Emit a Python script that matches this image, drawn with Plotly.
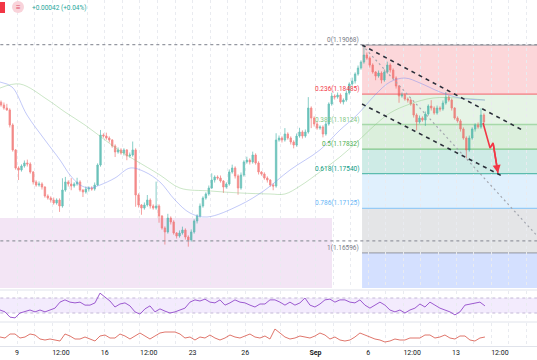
import plotly.graph_objects as go
import numpy as np

# ---------------- data ----------------
# 4-hour candles, x in trading days counted from Aug 9 00:00
bar_start = -0.911
bar_step = 1 / 6
first_open = 1.18390
closes = [
    1.18356, 1.18320, 1.18297, 1.18118, 1.17821, 1.17606, 1.17583, 1.17630, 1.17666, 1.17654,
    1.17559, 1.17440, 1.17404, 1.17416, 1.17380, 1.17273, 1.17249, 1.17225, 1.17190, 1.17225,
    1.17154, 1.17344, 1.17440, 1.17416, 1.17392, 1.17416, 1.17440, 1.17344, 1.17321, 1.17356,
    1.17368, 1.17356, 1.17404, 1.17642, 1.17999, 1.17987, 1.17963, 1.17940, 1.17868, 1.17797,
    1.17821, 1.17785, 1.17821, 1.17749, 1.17761, 1.17821, 1.17285, 1.17166, 1.17130, 1.17166,
    1.17225, 1.17154, 1.17130, 1.17154, 1.17035, 1.16892, 1.16845, 1.17011, 1.16964, 1.16833,
    1.16797, 1.16833, 1.16868, 1.16785, 1.16750, 1.16845, 1.16976, 1.17035, 1.17154, 1.17249,
    1.17297, 1.17368, 1.17463, 1.17499, 1.17487, 1.17452, 1.17380, 1.17416, 1.17559, 1.17606,
    1.17511, 1.17368, 1.17523, 1.17678, 1.17701, 1.17678, 1.17761, 1.17666, 1.17559, 1.17535,
    1.17487, 1.17463, 1.17404, 1.17392, 1.17940, 1.17963, 1.17940, 1.18011, 1.17963, 1.17916,
    1.17880, 1.17987, 1.18035, 1.17987, 1.18035, 1.18320, 1.18201, 1.18130, 1.18082, 1.18094,
    1.18011, 1.18130, 1.18368, 1.18463, 1.18451, 1.18475, 1.18392, 1.18415, 1.18499, 1.18606,
    1.18642, 1.18725, 1.18796, 1.18868, 1.18951, 1.18915, 1.18832, 1.18749, 1.18701, 1.18737,
    1.18653, 1.18749, 1.18832, 1.18772, 1.18677, 1.18582, 1.18463, 1.18475, 1.18427, 1.18415,
    1.18368, 1.18237, 1.18154, 1.18201, 1.18177, 1.18249, 1.18344, 1.18320, 1.18261, 1.18320,
    1.18308, 1.18380, 1.18451, 1.18415, 1.18320, 1.18201, 1.18166, 1.18070, 1.17963, 1.17821,
    1.17963, 1.18070, 1.18118, 1.18094, 1.18237, 1.18154,
]
wick_up_pips = [
    2, 3, 5, 2, 2, 1, 2, 2, 3, 4,
    2, 1, 2, 3, 2, 1, 2, 2, 3, 2,
    2, 14, 6, 2, 7, 2, 5, 2, 1, 3,
    2, 2, 3, 2, 6, 2, 4, 2, 1, 2,
    3, 2, 2, 1, 3, 10, 2, 2, 1, 3,
    6, 2, 2, 29, 2, 1, 2, 5, 2, 2,
    1, 3, 4, 2, 2, 3, 2, 2, 3, 2,
    2, 3, 8, 2, 2, 3, 1, 2, 3, 4,
    2, 2, 3, 2, 4, 2, 4, 2, 2, 1,
    2, 2, 1, 2, 8, 3, 2, 7, 2, 2,
    2, 3, 5, 2, 3, 13, 2, 2, 3, 2,
    2, 3, 2, 4, 2, 3, 2, 2, 3, 2,
    4, 2, 3, 2, 12, 3, 2, 2, 1, 3,
    2, 3, 4, 2, 2, 2, 1, 3, 2, 2,
    2, 1, 2, 3, 2, 3, 2, 7, 2, 3,
    2, 3, 6, 2, 2, 1, 2, 2, 2, 2,
    3, 2, 2, 3, 8, 2,
]
wick_dn_pips = [
    2, 2, 1, 3, 2, 2, 12, 2, 2, 3,
    2, 3, 2, 2, 3, 2, 2, 3, 2, 2,
    7, 2, 2, 3, 5, 2, 2, 2, 6, 2,
    3, 2, 2, 1, 2, 2, 2, 3, 2, 6,
    2, 2, 3, 5, 2, 2, 14, 3, 8, 2,
    2, 3, 2, 2, 8, 2, 15, 2, 3, 2,
    3, 2, 2, 3, 8, 2, 2, 3, 2, 2,
    2, 2, 1, 3, 2, 2, 7, 2, 2, 2,
    3, 8, 2, 2, 2, 3, 2, 2, 3, 2,
    2, 3, 2, 5, 2, 2, 3, 2, 2, 3,
    4, 2, 2, 3, 2, 2, 12, 3, 2, 2,
    4, 2, 2, 2, 3, 2, 2, 3, 2, 2,
    2, 3, 2, 2, 2, 2, 3, 2, 5, 2,
    4, 2, 2, 3, 2, 3, 8, 2, 2, 3,
    2, 3, 10, 2, 2, 7, 2, 3, 2, 2,
    3, 2, 2, 2, 3, 2, 2, 3, 2, 10,
    2, 2, 3, 2, 2, 3,
]

# moving averages (read at sample points)
ma_blue_day = [-0.97, -0.28, 0.57, 1.59, 2.45, 3.02, 3.59, 4.16, 4.73, 5.58, 6.44, 7.29, 8.14,
               9.0, 9.85, 10.82, 12.7, 14.12, 15.55, 17.25, 18.39, 19.36, 20.39, 21.24, 22.1,
               22.95, 24.09, 25.23, 26.65]
ma_blue = [1.18630, 1.18570, 1.18237, 1.17940, 1.17701, 1.17523, 1.17404, 1.17368, 1.17404,
           1.17487, 1.17606, 1.17559, 1.17440, 1.17225, 1.17071, 1.17023, 1.17166, 1.17344,
           1.17583, 1.17821, 1.18058, 1.18237, 1.18475, 1.18630, 1.18677, 1.18618, 1.18511,
           1.18439, 1.18415]
ma_green_day = [-0.97, 0.17, 1.77, 2.73, 3.87, 5.01, 5.87, 6.72, 8.14, 9.28, 10.99, 12.7, 14.41,
                15.26, 16.12, 17.25, 18.39, 19.36, 20.39, 21.24, 22.38, 23.69, 25.23, 26.65]
ma_green = [1.18558, 1.18606, 1.18415, 1.18273, 1.18118, 1.17940, 1.17809, 1.17701, 1.17523,
            1.17368, 1.17333, 1.17309, 1.17297, 1.17297, 1.17392, 1.17559, 1.17737, 1.17916,
            1.18118, 1.18261, 1.18368, 1.18439, 1.18439, 1.18415]

# oscillators, sampled on a regular grid
osc_start = -0.968
osc_step = 0.2847
rsi = [38, 33, 19, 17, 30, 33, 38, 33, 38, 33,
       38, 43, 59, 65, 59, 57, 59, 51, 51, 57,
       83, 72, 62, 46, 54, 57, 49, 33, 27, 41,
       49, 33, 41, 35, 30, 33, 38, 43, 59, 65,
       62, 67, 59, 57, 65, 51, 57, 65, 59, 57,
       51, 46, 54, 54, 65, 65, 59, 51, 59, 51,
       57, 70, 51, 46, 54, 65, 67, 59, 65, 65,
       59, 57, 65, 51, 43, 51, 59, 51, 38, 33,
       38, 30, 38, 43, 54, 46, 59, 51, 43, 38,
       33, 25, 33, 51, 54, 57, 59, 49]
osc2 = [13, 12, 16, 16, 12, 13, 16, 15, 11, 10,
        11, 10, 9, 16, 14, 11, 11, 13, 11, 9,
        14, 15, 12, 12, 16, 14, 11, 14, 17, 14,
        11, 14, 17, 18, 18, 18, 16, 12, 13, 10,
        13, 12, 15, 12, 10, 12, 15, 13, 12, 14,
        16, 13, 12, 14, 11, 21, 17, 13, 11, 12,
        14, 13, 12, 14, 17, 15, 11, 13, 10, 9,
        10, 13, 17, 15, 13, 11, 10, 8, 9, 11,
        10, 10, 12, 12, 12, 15, 15, 12, 13, 15,
        12, 11, 14, 14, 10, 9, 12, 13]

# Fibonacci retracement
fib_anchor_day = 19.65
fib_ratio = [0, 0.236, 0.382, 0.5, 0.618, 0.786, 1]
fib_price = [1.19068, 1.18485, 1.18124, 1.17832, 1.17540, 1.17125, 1.16596]
fib_color = ['#787b86', '#f23645', '#81c784', '#4caf50', '#089981', '#64b5f6', '#787b86']
fib_ext_color = '#2962ff'

# user drawings
hline_top = 1.19075
hline_low = 1.16738
zone_top = 1.17011
zone_end_day = 17.94
chan_up_day = [19.65, 28.76]
chan_up = [1.19070, 1.18060]
chan_lo_day = [19.65, 27.73]
chan_lo = [1.18368, 1.17499]
diag_day = [19.65, 30.1]
diag = [1.19070, 1.16690]
proj_day = [26.54, 26.94, 27.11, 27.39]
proj = [1.18142, 1.17844, 1.17904, 1.17547]

tick_days = [0, 2.5, 5, 7.5, 10, 13, 17, 20, 22.5, 25, 27.5]
tick_text = ['9', '12:00', '16', '12:00', '23', '26', '<b>Sep</b>', '6', '12:00', '13', '12:00']

# ---------------- figure ----------------
W, H = 537, 360
MB = 14
PH = H - MB
def py(px):  # pixel row -> paper fraction
    return (PH - px) / PH

x_rng = [-0.968, 29.613]

c = np.array(closes)
o = np.concatenate([[first_open], c[:-1]])
hi = np.maximum(o, c) + np.array(wick_up_pips) * 1e-4
lo = np.minimum(o, c) - np.array(wick_dn_pips) * 1e-4
bx = bar_start + np.arange(len(c)) * bar_step

osc_x = osc_start + np.arange(len(rsi)) * osc_step

fig = go.Figure()

fig.add_trace(go.Scatter(x=ma_green_day, y=ma_green, mode='lines', line=dict(color='rgba(140,200,130,0.45)', width=1, shape='spline'), hoverinfo='skip'))
fig.add_trace(go.Scatter(x=ma_blue_day, y=ma_blue, mode='lines', line=dict(color='rgba(120,135,240,0.45)', width=1, shape='spline'), hoverinfo='skip'))

fig.add_trace(go.Candlestick(
    x=bx, open=o, high=hi, low=lo, close=c,
    increasing=dict(line=dict(color='#26a69a', width=0.8), fillcolor='#26a69a'),
    decreasing=dict(line=dict(color='#ef5350', width=0.8), fillcolor='#ef5350'),
    whiskerwidth=0, opacity=0.68, hoverinfo='skip'))

# channel + diagonal
fig.add_trace(go.Scatter(x=diag_day, y=diag, mode='lines', line=dict(color='#a3a6af', width=1.2, dash='2px,3px'), hoverinfo='skip'))
fig.add_trace(go.Scatter(x=chan_up_day, y=chan_up, mode='lines', line=dict(color='#2a2e39', width=1.6, dash='4px,4px'), hoverinfo='skip'))
fig.add_trace(go.Scatter(x=chan_lo_day, y=chan_lo, mode='lines', line=dict(color='#2a2e39', width=1.6, dash='4px,4px'), hoverinfo='skip'))
fig.add_trace(go.Scatter(x=proj_day, y=proj, mode='lines', line=dict(color='#f23645', width=1.6), hoverinfo='skip'))

# oscillators
fig.add_trace(go.Scatter(x=osc_x, y=rsi, yaxis='y2', mode='lines', line=dict(color='#9c5ad0', width=1), hoverinfo='skip'))
fig.add_trace(go.Scatter(x=osc_x, y=osc2, yaxis='y3', mode='lines', line=dict(color='#e0766c', width=1), hoverinfo='skip'))

shapes = []
# purple demand zone
shapes.append(dict(type='rect', xref='x', yref='y', x0=-3, x1=zone_end_day, y0=1.15, y1=zone_top,
                   fillcolor='rgba(156,39,176,0.12)', line=dict(width=0), layer='below'))
# fib bands
def rgba(hx, a):
    hx = hx.lstrip('#')
    return 'rgba(%d,%d,%d,%.2f)' % (int(hx[0:2], 16), int(hx[2:4], 16), int(hx[4:6], 16), a)
for i in range(len(fib_price) - 1):
    shapes.append(dict(type='rect', xref='x', yref='y', x0=fib_anchor_day, x1=32,
                       y0=fib_price[i + 1], y1=fib_price[i], fillcolor=rgba(fib_color[i + 1], 0.2),
                       line=dict(width=0), layer='below'))
shapes.append(dict(type='rect', xref='x', yref='y', x0=fib_anchor_day, x1=32, y0=1.15, y1=fib_price[-1],
                   fillcolor=rgba(fib_ext_color, 0.2), line=dict(width=0), layer='below'))
for p, col in zip(fib_price, fib_color):
    shapes.append(dict(type='line', xref='x', yref='y', x0=fib_anchor_day, x1=32, y0=p, y1=p,
                       line=dict(color=rgba(col, 0.6), width=1.3), layer='below'))
# horizontal user lines
for p in (hline_top, hline_low):
    shapes.append(dict(type='line', xref='x', yref='y', x0=-3, x1=32, y0=p, y1=p,
                       line=dict(color='#9598a1', width=1.2, dash='3px,3px'), layer='above'))
# RSI band
shapes.append(dict(type='rect', xref='x', yref='y2', x0=-3, x1=32, y0=30, y1=70,
                   fillcolor='rgba(149,76,233,0.11)', line=dict(width=0), layer='below'))
for v in (30, 70):
    shapes.append(dict(type='line', xref='x', yref='y2', x0=-3, x1=32, y0=v, y1=v,
                       line=dict(color='#c3b8d6', width=1, dash='3px,3px'), layer='below'))
# pane separators
for pxr in (290, 322):
    shapes.append(dict(type='line', xref='paper', yref='paper', x0=0, x1=1, y0=py(pxr), y1=py(pxr),
                       line=dict(color='#e0e3eb', width=1)))
# top-left badges
shapes.append(dict(type='rect', xref='paper', yref='paper', x0=0, x1=5 / W, y0=py(13), y1=py(2),
                   fillcolor='#f23645', line=dict(width=0)))
shapes.append(dict(type='circle', xref='paper', yref='paper', x0=12 / W, x1=24 / W, y0=py(13), y1=py(1),
                   fillcolor='#f9d3da', line=dict(width=0)))

ann = []
for r, p, col in zip(fib_ratio, fib_price, fib_color):
    ann.append(dict(x=fib_anchor_day, y=p, xref='x', yref='y', text='%g(%.5f)' % (r, p),
                    showarrow=False, xanchor='right', yanchor='bottom', xshift=-1, yshift=-1,
                    font=dict(size=6.5, color=col, family='Roboto')))
ann.append(dict(x=proj_day[-1], y=proj[-1], ax=proj_day[-2], ay=proj[-2], xref='x', yref='y',
                axref='x', ayref='y', showarrow=True, arrowhead=2, arrowsize=1, arrowwidth=1.6,
                arrowcolor='#f23645', text=''))
ann.append(dict(x=18 / W, y=py(7), xref='paper', yref='paper', text='≡', showarrow=False,
                font=dict(size=8, color='#e04f6a'), xanchor='center', yanchor='middle'))
ann.append(dict(x=30 / W, y=py(8), xref='paper', yref='paper', text='+0.00042 (+0.04%)', showarrow=False,
                font=dict(size=6.5, color='#26a69a', family='Roboto'), xanchor='left', yanchor='middle'))

hidden_y = dict(showticklabels=False, showgrid=False, zeroline=False, showline=False, ticks='', fixedrange=True)

fig.update_layout(
    width=W, height=H, margin=dict(l=0, r=0, t=0, b=MB),
    paper_bgcolor='white', plot_bgcolor='white', showlegend=False,
    shapes=shapes, annotations=ann,
    xaxis=dict(range=x_rng, anchor='y3', domain=[0, 1], rangeslider=dict(visible=False),
               tickvals=tick_days, ticktext=tick_text, showgrid=False, zeroline=False,
               showline=True, linecolor='#e0e3eb', ticks='',
               tickfont=dict(size=7, color='#131722', family='Roboto'),
               minor=dict(dtick=1, tick0=0, showgrid=True, gridcolor='#e9ebf0', griddash='dot', gridwidth=1)),
    yaxis=dict(domain=[py(288), 1], range=[1.16178, 1.19606], anchor='x', **hidden_y),
    yaxis2=dict(domain=[py(321), py(291)], range=[8.7, 88.7], anchor='x', **hidden_y),
    yaxis3=dict(domain=[0, py(323)], range=[4, 27], anchor='x', **hidden_y),
)

fig.write_html('out.html')
